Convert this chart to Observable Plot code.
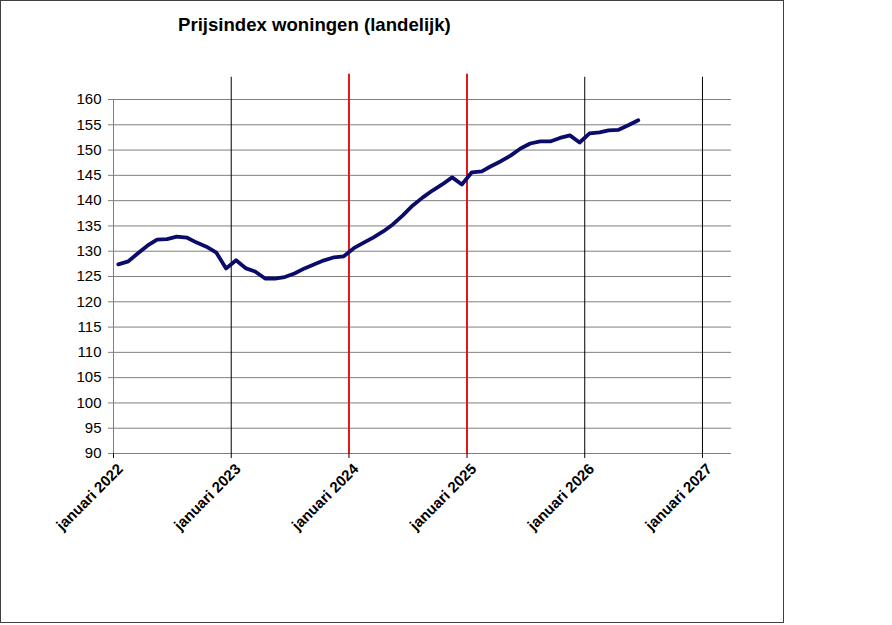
<!DOCTYPE html>
<html>
<head>
<meta charset="utf-8">
<script src="https://cdn.jsdelivr.net/npm/d3@7"></script>
<script src="https://cdn.jsdelivr.net/npm/@observablehq/plot@0.6"></script>
<style>
  html, body { margin: 0; padding: 0; background: #fff; }
  body { width: 892px; height: 625px; position: relative; overflow: hidden; font-family: "Liberation Sans", Arial, sans-serif; }
  #frame { position: absolute; left: 0; top: 0; width: 782px; height: 621px; border: 1px solid #404040; }
  #title { position: absolute; left: 178px; top: 14px; font-size: 18.6px; font-weight: bold; color: #000; white-space: nowrap; }
  #chart { position: absolute; left: 0; top: 40px; }
</style>
</head>
<body>
<div id="frame"></div>
<div id="title">Prijsindex woningen (landelijk)</div>
<div id="chart"></div>
<script>
// Monthly price index, January 2022 – June 2026
const startMonth = "2022-01-01";
const indexValues = [
  127.4, 128.0, 129.5, 131.1, 132.3, 132.4, 132.9, 132.7, 131.7, 130.9, 129.7, 126.6,
  128.2, 126.6, 126.0, 124.6, 124.6, 124.9, 125.6, 126.6, 127.4, 128.2, 128.8, 129.0,
  130.6, 131.7, 132.7, 133.9, 135.3, 137.1, 139.0, 140.6, 142.0, 143.2, 144.6, 143.2,
  145.6, 145.8, 146.8, 147.8, 148.9, 150.3, 151.3, 151.7, 151.7, 152.4, 152.9, 151.5,
  153.3, 153.5, 153.9, 154.0, 154.9, 155.9
];
const yTicks = [90, 95, 100, 105, 110, 115, 120, 125, 130, 135, 140, 145, 150, 155, 160];
const yearTicks = ["2022-01-01", "2023-01-01", "2024-01-01", "2025-01-01", "2026-01-01", "2027-01-01"];
const blackYears = ["2023-01-01", "2026-01-01", "2027-01-01"];
const redYears = ["2024-01-01", "2025-01-01"];
const monthNameLabel = "januari";

const start = new Date(startMonth);
const data = indexValues.map((v, i) => {
  const m = d3.utcMonth.offset(start, i);
  return { date: d3.utcDay.offset(m, 15), value: v };
});

const chart = Plot.plot({
  width: 783,
  height: 513,
  marginLeft: 113,
  marginRight: 52,
  marginTop: 59,
  marginBottom: 100,
  style: { fontFamily: "'Liberation Sans', Arial, sans-serif", fontSize: "15px", color: "#000", background: "transparent" },
  x: { type: "utc", domain: [new Date("2022-01-01"), new Date("2027-04-01")] },
  y: { domain: [90, 160] },
  marks: [
    Plot.ruleY(yTicks, { stroke: "#808080", strokeWidth: 1, strokeOpacity: 1 }),
    Plot.ruleX([new Date("2022-01-01")], { y1: 90, y2: 160, stroke: "#808080", strokeWidth: 1 }),
    Plot.ruleX(blackYears.map(d => new Date(d)), { y1: 90, y2: 164.4, stroke: "#000", strokeWidth: 1 }),
    Plot.ruleX(redYears.map(d => new Date(d)), { y1: 90, y2: 165, stroke: "#e01818", strokeWidth: 2 }),
    Plot.axisY({ ticks: yTicks, tickSize: 5, tickPadding: 7, stroke: "#808080", label: null, fontSize: 15 }),
    Plot.axisX({
      ticks: yearTicks.map(d => new Date(d)),
      tickFormat: d => monthNameLabel + " " + d.getUTCFullYear(),
      tickRotate: -45, tickSize: 5, tickPadding: 4, stroke: "#000", label: null
    }),
    Plot.axisX({
      ticks: yearTicks.map(d => new Date(d)),
      tickFormat: d => monthNameLabel + " " + d.getUTCFullYear(),
      tickRotate: -45, tickSize: 0, tickPadding: 4, dx: 7, dy: 9,
      fontWeight: "bold", fontSize: 15, label: null
    }),
    Plot.line(data, { x: "date", y: "value", stroke: "#0b0b6b", strokeWidth: 3.8, strokeLinejoin: "round", strokeLinecap: "round" })
  ]
});
// remove labels of the first (tick-only) axis
const axes = chart.querySelectorAll('g[aria-label="x-axis tick label"]');
if (axes.length > 1) axes[0].remove();
document.getElementById("chart").appendChild(chart);
</script>
</body>
</html>
